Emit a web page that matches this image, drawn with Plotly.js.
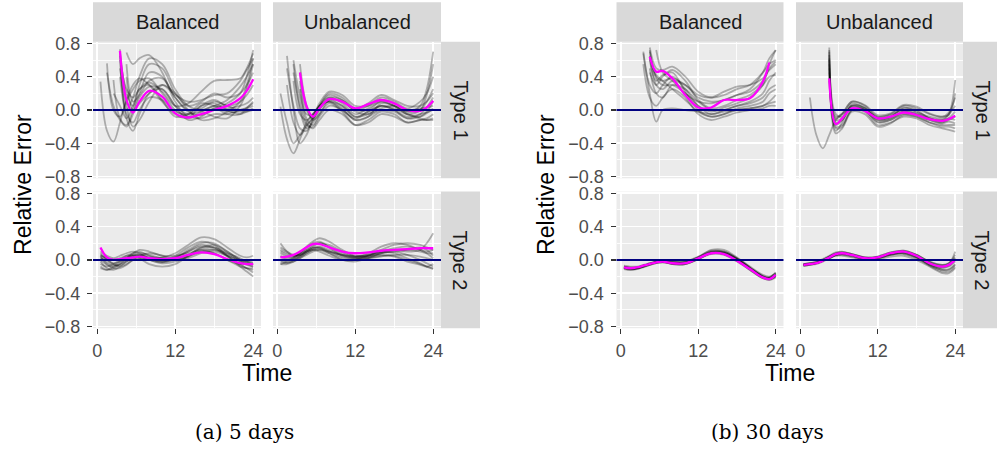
<!DOCTYPE html>
<html><head><meta charset="utf-8">
<script src="https://cdn.plot.ly/plotly-3.0.1.min.js"></script>
<style>html,body{margin:0;padding:0;background:#fff}#chart{width:997px;height:449px}</style>
</head><body><div id="chart"></div>
<script>
const _ = null;
const hours = [0.5,1.5,2.5,3.5,4.5,5.5,6.5,8,10,12,14,16,18,20,22,23,24];
const columns = ['Balanced','Unbalanced'];
const rows = ['Type 1','Type 2'];
const captions = ['(a) 5 days','(b) 30 days'];
const referenceError = 0;

// (a) 5 days, Type 1, Balanced
const d5T1BalMean = [_,_,_,0.71,0.12,-0.03,0.10,0.23,0.16,-0.04,-0.09,-0.05,0.00,0.05,0.14,0.23,0.37];
const d5T1BalRuns = [
 [0.34,-0.25,-0.38,-0.15,0.12,0.30,0.38,0.30,0.10,-0.05,-0.10,-0.02,0.05,0.02,0.05,0.08,0.15],
 [_,0.56,0.00,-0.08,0.10,0.25,0.35,0.38,0.20,0.00,-0.08,-0.10,-0.05,-0.05,0.00,0.03,0.08],
 [_,_,0.36,-0.10,-0.18,0.00,0.20,0.45,0.40,0.15,0.00,0.02,0.10,0.05,0.00,0.02,0.05],
 [_,_,_,0.73,-0.10,-0.25,-0.05,0.20,0.25,0.05,-0.05,-0.02,-0.08,-0.10,0.05,0.25,0.55],
 [_,_,_,0.69,0.20,0.05,0.30,0.55,0.50,0.20,0.05,0.10,0.20,0.15,0.20,0.30,0.45],
 [_,_,_,_,0.69,0.55,0.62,0.66,0.45,0.10,-0.08,0.05,0.12,0.05,0.10,0.18,0.30],
 [_,_,_,0.50,0.05,-0.20,-0.12,0.10,0.30,0.20,0.00,-0.12,-0.10,-0.02,0.10,0.30,0.62],
 [_,_,_,_,0.55,0.10,0.18,0.35,0.38,0.15,-0.02,-0.06,0.02,0.08,0.20,0.40,0.72],
 [_,_,0.20,0.05,-0.10,0.05,0.25,0.33,0.22,0.05,0.08,0.22,0.35,0.36,0.38,0.50,0.68],
 [_,_,_,0.60,0.00,0.15,0.40,0.62,0.55,0.25,0.05,0.00,0.05,0.12,0.28,0.40,0.55],
 [_,_,_,0.40,-0.05,-0.15,0.00,0.15,0.12,-0.02,-0.05,0.05,0.08,0.00,-0.05,-0.02,0.02],
 [_,0.45,0.05,-0.12,-0.20,-0.05,0.15,0.28,0.25,0.05,-0.12,-0.08,0.02,-0.05,-0.05,0.02,0.10],
 [_,_,_,0.65,0.25,0.15,0.25,0.30,0.12,-0.08,-0.05,0.08,0.05,-0.02,-0.02,-0.02,0.00],
 [_,_,_,_,0.40,0.00,0.08,0.20,0.30,0.18,0.10,0.12,0.18,0.20,0.35,0.48,0.62]
];

// (a) 5 days, Type 1, Unbalanced
const d5T1UnbMean = [_,_,_,0.45,0.05,-0.08,0.02,0.13,0.10,0.02,0.07,0.12,0.08,0.00,-0.01,0.03,0.11];
const d5T1UnbRuns = [
 [0.04,-0.35,-0.52,-0.35,-0.15,-0.05,0.05,0.10,0.00,-0.10,-0.02,0.05,0.00,-0.08,-0.05,-0.03,0.00],
 [_,0.65,0.00,-0.40,-0.30,-0.10,0.05,0.15,0.08,-0.05,0.02,0.10,0.05,-0.02,0.05,0.25,0.70],
 [_,0.50,0.05,-0.22,-0.25,-0.12,0.02,0.12,0.05,-0.08,-0.05,0.05,0.02,-0.05,0.00,0.18,0.55],
 [_,_,0.55,0.00,-0.22,-0.15,0.00,0.15,0.12,0.00,0.05,0.15,0.10,0.02,0.10,0.20,0.40],
 [_,_,0.45,0.05,-0.18,-0.20,-0.08,0.05,0.00,-0.12,-0.08,0.00,-0.02,-0.10,-0.05,0.03,0.15],
 [_,_,_,0.35,-0.10,-0.18,-0.05,0.08,-0.02,-0.18,-0.15,-0.05,-0.08,-0.15,-0.12,-0.10,-0.05],
 [_,_,_,0.45,0.00,-0.10,0.05,0.20,0.15,0.02,0.08,0.18,0.12,0.05,0.05,0.10,0.20],
 [_,_,0.60,0.15,-0.15,-0.22,-0.12,0.00,-0.05,-0.18,-0.12,-0.02,-0.05,-0.15,-0.12,-0.12,-0.10],
 [_,_,_,0.25,-0.05,-0.05,0.08,0.22,0.18,0.05,0.05,0.12,0.08,0.00,0.02,0.03,0.05],
 [_,0.30,-0.15,-0.30,-0.20,-0.08,0.05,0.10,0.02,-0.12,-0.08,0.08,0.05,-0.05,-0.10,-0.12,-0.12],
 [_,_,_,0.55,0.05,-0.12,-0.05,0.12,0.10,-0.02,-0.05,0.02,0.05,-0.02,0.00,0.10,0.25],
 [_,_,0.35,-0.05,-0.12,-0.05,0.05,0.18,0.12,0.00,0.00,0.10,0.05,-0.05,-0.08,-0.04,0.02],
 [0.20,-0.15,-0.40,-0.30,-0.18,-0.10,0.02,0.10,0.05,-0.08,-0.02,0.05,0.00,-0.10,-0.08,-0.02,0.10]
];

// (a) 5 days, Type 2, Balanced
const d5T2BalMean = [0.15,0.03,0.00,0.01,0.02,0.03,0.04,0.02,0.01,0.02,0.06,0.09,0.07,0.01,-0.04,-0.05,-0.05];
const d5T2BalRuns = [
 [0.05,-0.05,-0.08,-0.05,0.02,0.08,0.10,0.05,0.00,0.05,0.15,0.22,0.18,0.05,-0.05,-0.10,-0.15],
 [-0.02,-0.10,-0.12,-0.08,-0.02,0.02,0.03,0.00,-0.03,0.02,0.10,0.18,0.15,0.05,-0.08,-0.14,-0.20],
 [0.10,0.05,0.02,0.05,0.08,0.10,0.08,0.02,-0.02,0.00,0.05,0.10,0.08,0.00,-0.05,-0.05,-0.05],
 [-0.08,-0.12,-0.10,-0.05,0.00,0.05,0.05,0.02,0.03,0.08,0.18,0.27,0.25,0.15,0.05,0.03,0.05],
 [0.02,0.00,-0.05,-0.08,-0.05,0.00,0.05,0.08,0.05,0.00,0.02,0.08,0.10,0.05,0.00,-0.02,-0.03],
 [0.05,0.02,0.00,0.02,0.05,0.05,0.02,-0.05,-0.08,-0.05,0.05,0.15,0.18,0.10,0.00,-0.05,-0.08],
 [-0.05,-0.08,-0.05,0.00,0.05,0.08,0.12,0.10,0.05,0.05,0.08,0.12,0.08,0.00,-0.08,-0.10,-0.10],
 [0.00,-0.06,-0.10,-0.10,-0.06,0.00,0.02,0.02,0.00,0.03,0.12,0.20,0.20,0.10,0.00,-0.02,0.00],
 [0.08,0.00,-0.04,-0.02,0.02,0.06,0.08,0.06,0.02,0.02,0.06,0.14,0.15,0.08,-0.02,-0.06,-0.08],
 [-0.10,-0.12,-0.08,-0.02,0.03,0.06,0.06,0.04,0.02,0.00,0.04,0.10,0.12,0.08,0.02,-0.02,-0.06],
 [0.03,-0.03,-0.06,-0.06,-0.02,0.03,0.06,0.02,-0.02,0.03,0.10,0.16,0.14,0.04,-0.06,-0.10,-0.12],
 [0.06,0.02,0.00,0.00,0.02,0.04,0.04,0.00,-0.04,-0.02,0.04,0.12,0.12,0.06,-0.02,-0.04,-0.04]
];

// (a) 5 days, Type 2, Unbalanced
const d5T2UnbMean = [0.03,0.04,0.06,0.10,0.15,0.19,0.19,0.15,0.10,0.08,0.09,0.11,0.12,0.13,0.14,0.14,0.14];
const d5T2UnbRuns = [
 [0.20,0.10,0.05,0.08,0.15,0.20,0.22,0.15,0.05,0.02,0.05,0.10,0.12,0.10,0.12,0.20,0.32],
 [-0.05,-0.02,0.02,0.08,0.12,0.15,0.14,0.08,0.00,-0.02,0.02,0.05,0.05,0.00,-0.05,-0.08,-0.10],
 [0.05,0.02,0.03,0.08,0.16,0.22,0.26,0.22,0.12,0.05,0.05,0.08,0.10,0.12,0.15,0.12,0.05],
 [0.12,0.08,0.05,0.06,0.10,0.12,0.10,0.05,0.00,0.00,0.05,0.12,0.18,0.20,0.18,0.15,0.12],
 [-0.02,-0.04,0.00,0.05,0.10,0.14,0.15,0.10,0.04,0.02,0.04,0.06,0.04,-0.02,-0.06,-0.08,-0.05],
 [0.08,0.04,0.02,0.04,0.08,0.12,0.14,0.10,0.06,0.04,0.06,0.10,0.14,0.16,0.12,0.08,0.02],
 [0.00,-0.03,-0.02,0.02,0.08,0.12,0.12,0.08,0.02,0.00,0.02,0.08,0.10,0.06,0.00,-0.04,-0.08],
 [0.15,0.10,0.06,0.06,0.10,0.16,0.20,0.18,0.10,0.04,0.04,0.08,0.12,0.12,0.10,0.08,0.08],
 [0.04,0.00,0.00,0.04,0.10,0.14,0.16,0.12,0.06,0.02,0.02,0.04,0.06,0.06,0.04,0.02,0.00],
 [-0.05,-0.05,-0.02,0.02,0.06,0.10,0.12,0.10,0.06,0.04,0.06,0.10,0.08,0.02,-0.04,-0.08,-0.11],
 [0.10,0.06,0.04,0.06,0.12,0.18,0.20,0.16,0.08,0.04,0.08,0.16,0.20,0.18,0.12,0.10,0.12]
];

// (b) 30 days, Type 1, Balanced
const d30T1BalMean = [_,_,_,_,0.64,0.46,0.47,0.38,0.18,0.03,0.03,0.12,0.12,0.14,0.34,0.57,_];
const d30T1BalRuns = [
 [_,_,_,0.70,0.20,-0.14,0.00,0.02,0.00,-0.02,-0.05,-0.02,0.00,0.02,0.05,0.08,0.10],
 [_,_,_,_,0.72,0.40,0.35,0.38,0.30,0.15,0.10,0.12,0.18,0.25,0.45,0.62,0.72],
 [_,_,_,0.68,0.30,0.20,0.30,0.40,0.25,0.05,-0.05,0.00,0.05,0.10,0.20,0.35,0.45],
 [_,_,_,_,0.60,0.35,0.42,0.45,0.22,0.00,-0.08,-0.05,0.00,0.02,0.05,0.10,0.18],
 [_,_,_,_,0.65,0.30,0.25,0.35,0.30,0.18,0.15,0.22,0.28,0.30,0.38,0.48,0.55],
 [_,_,_,_,0.75,0.50,0.48,0.52,0.40,0.22,0.15,0.18,0.25,0.30,0.45,0.55,0.60],
 [_,_,_,0.55,0.15,0.05,0.15,0.25,0.15,-0.05,-0.12,-0.08,-0.03,0.00,0.02,0.05,0.05],
 [_,_,_,_,0.70,0.38,0.30,0.30,0.20,0.05,-0.02,0.03,0.08,0.15,0.30,0.55,0.72],
 [_,_,_,_,0.45,0.30,0.40,0.48,0.35,0.12,0.02,0.05,0.12,0.18,0.30,0.40,0.42],
 [_,_,_,_,0.50,0.20,0.15,0.30,0.25,0.10,0.00,0.00,0.05,0.08,0.15,0.25,0.30],
 [_,_,_,_,_,0.72,0.45,0.35,0.20,0.10,0.08,0.12,0.18,0.22,0.35,0.50,0.58],
 [_,_,_,_,0.62,0.42,0.35,0.25,0.12,-0.02,-0.08,-0.05,0.02,0.05,0.10,0.20,0.25]
];

// (b) 30 days, Type 1, Unbalanced
const d30T1UnbMean = [_,_,_,_,0.38,-0.17,-0.10,0.02,-0.01,-0.10,-0.08,-0.03,-0.06,-0.11,-0.13,-0.11,-0.07];
const d30T1UnbRuns = [
 [_,0.15,-0.30,-0.46,-0.30,-0.12,-0.05,0.02,0.00,-0.08,-0.06,0.00,-0.03,-0.08,-0.10,-0.05,0.05],
 [_,_,_,_,0.75,-0.25,-0.15,0.05,0.02,-0.12,-0.10,-0.02,-0.05,-0.12,-0.15,-0.12,-0.08],
 [_,_,_,_,0.70,-0.20,-0.18,0.00,0.00,-0.15,-0.12,-0.05,-0.08,-0.15,-0.18,-0.18,-0.18],
 [_,_,_,_,0.60,-0.10,-0.05,0.10,0.05,-0.08,-0.05,0.05,0.02,-0.05,-0.08,-0.03,0.15],
 [_,_,_,_,0.45,-0.22,-0.20,0.00,-0.02,-0.18,-0.15,-0.08,-0.10,-0.18,-0.22,-0.24,-0.26],
 [_,_,_,_,0.62,-0.05,-0.08,0.08,0.02,-0.10,-0.08,0.02,0.00,-0.10,-0.12,-0.05,0.36],
 [_,_,_,_,0.50,-0.15,-0.12,0.05,0.00,-0.12,-0.10,-0.02,-0.05,-0.10,-0.12,-0.10,-0.12],
 [_,_,_,_,0.72,-0.28,-0.22,-0.02,-0.05,-0.20,-0.16,-0.06,-0.08,-0.15,-0.20,-0.20,-0.22],
 [_,_,_,_,0.35,-0.12,-0.10,0.06,0.03,-0.10,-0.08,0.03,-0.02,-0.10,-0.14,-0.10,-0.02],
 [_,_,_,_,0.55,-0.18,-0.12,0.04,0.00,-0.14,-0.12,-0.03,-0.06,-0.12,-0.16,-0.14,-0.16],
 [_,_,_,_,0.66,-0.08,-0.04,0.10,0.06,-0.06,-0.04,0.06,0.04,-0.04,-0.08,-0.06,0.20]
];

// (b) 30 days, Type 2, Balanced
const d30T2BalMean = [-0.09,-0.10,-0.09,-0.07,-0.05,-0.03,-0.02,-0.04,-0.04,0.02,0.08,0.07,-0.01,-0.11,-0.21,-0.23,-0.18];
const d30T2BalRuns = [
 [-0.08,-0.10,-0.10,-0.08,-0.05,-0.02,-0.01,-0.03,-0.03,0.03,0.10,0.09,0.01,-0.10,-0.20,-0.22,-0.17],
 [-0.10,-0.12,-0.11,-0.08,-0.06,-0.04,-0.03,-0.05,-0.05,0.01,0.07,0.06,-0.02,-0.12,-0.22,-0.24,-0.20],
 [-0.07,-0.08,-0.08,-0.06,-0.04,-0.02,-0.01,-0.02,-0.02,0.04,0.11,0.10,0.02,-0.09,-0.19,-0.21,-0.15],
 [-0.09,-0.11,-0.10,-0.07,-0.05,-0.03,-0.02,-0.04,-0.04,0.02,0.09,0.08,0.00,-0.11,-0.21,-0.23,-0.19],
 [-0.11,-0.12,-0.10,-0.08,-0.06,-0.03,-0.02,-0.05,-0.05,0.01,0.08,0.08,0.01,-0.10,-0.20,-0.23,-0.19],
 [-0.08,-0.09,-0.09,-0.07,-0.04,-0.02,0.00,-0.02,-0.03,0.03,0.12,0.12,0.03,-0.08,-0.18,-0.20,-0.16],
 [-0.10,-0.11,-0.11,-0.09,-0.06,-0.04,-0.03,-0.04,-0.04,0.02,0.08,0.07,-0.01,-0.12,-0.22,-0.24,-0.21],
 [-0.09,-0.10,-0.09,-0.07,-0.05,-0.03,-0.02,-0.03,-0.03,0.02,0.09,0.09,0.01,-0.10,-0.21,-0.22,-0.17],
 [-0.08,-0.10,-0.10,-0.08,-0.05,-0.03,-0.02,-0.05,-0.05,0.01,0.08,0.07,-0.01,-0.11,-0.20,-0.22,-0.19],
 [-0.10,-0.11,-0.10,-0.07,-0.05,-0.02,-0.01,-0.03,-0.02,0.03,0.10,0.10,0.02,-0.09,-0.20,-0.21,-0.16]
];

// (b) 30 days, Type 2, Unbalanced
const d30T2UnbMean = [-0.06,-0.05,-0.04,-0.01,0.03,0.07,0.08,0.06,0.02,0.03,0.08,0.10,0.05,-0.04,-0.08,-0.06,0.00];
const d30T2UnbRuns = [
 [-0.05,-0.04,-0.02,0.01,0.05,0.09,0.10,0.07,0.03,0.04,0.09,0.11,0.06,-0.02,-0.06,-0.04,0.06],
 [-0.07,-0.06,-0.05,-0.02,0.02,0.06,0.07,0.05,0.01,0.02,0.06,0.08,0.03,-0.06,-0.12,-0.11,-0.05],
 [-0.06,-0.05,-0.04,-0.01,0.02,0.05,0.05,0.03,0.00,0.01,0.04,0.05,0.00,-0.08,-0.16,-0.16,-0.10],
 [-0.05,-0.04,-0.03,0.00,0.04,0.08,0.09,0.07,0.03,0.03,0.08,0.10,0.06,-0.02,-0.06,-0.04,0.03],
 [-0.07,-0.06,-0.04,-0.01,0.03,0.06,0.08,0.06,0.02,0.03,0.07,0.09,0.04,-0.05,-0.10,-0.08,-0.02],
 [-0.06,-0.05,-0.04,-0.01,0.02,0.05,0.06,0.04,0.01,0.02,0.06,0.07,0.02,-0.07,-0.14,-0.14,-0.08],
 [-0.05,-0.04,-0.03,0.00,0.04,0.08,0.09,0.07,0.03,0.04,0.09,0.11,0.06,-0.03,-0.07,-0.05,0.10],
 [-0.06,-0.05,-0.04,-0.01,0.03,0.07,0.08,0.06,0.02,0.03,0.08,0.10,0.05,-0.04,-0.08,-0.06,0.02],
 [-0.07,-0.06,-0.04,-0.01,0.02,0.06,0.07,0.05,0.01,0.02,0.06,0.08,0.03,-0.06,-0.12,-0.12,-0.06],
 [-0.05,-0.05,-0.03,0.00,0.04,0.07,0.08,0.06,0.02,0.03,0.07,0.09,0.04,-0.05,-0.09,-0.07,0.00]
];

// ---------- layout geometry (pixels) ----------
const W = 997, H = 449;
const px = v => v / W, py = v => 1 - v / H;
const figures = [
  {cols: [[93, 261], [273, 441]], rowStrip: [441, 480], yTitleX: 23, caption: 244},
  {cols: [[616.5, 783.5], [796, 963]], rowStrip: [963, 1002], yTitleX: 546, caption: 767}
];
const rowsPx = [[41.7, 178.3], [191.6, 328.2]];
const colStripY = [2.3, 41.7];

const panels = [
  {fig: 0, r: 0, c: 0, mean: d5T1BalMean, runs: d5T1BalRuns},
  {fig: 0, r: 0, c: 1, mean: d5T1UnbMean, runs: d5T1UnbRuns},
  {fig: 0, r: 1, c: 0, mean: d5T2BalMean, runs: d5T2BalRuns},
  {fig: 0, r: 1, c: 1, mean: d5T2UnbMean, runs: d5T2UnbRuns},
  {fig: 1, r: 0, c: 0, mean: d30T1BalMean, runs: d30T1BalRuns},
  {fig: 1, r: 0, c: 1, mean: d30T1UnbMean, runs: d30T1UnbRuns},
  {fig: 1, r: 1, c: 0, mean: d30T2BalMean, runs: d30T2BalRuns},
  {fig: 1, r: 1, c: 1, mean: d30T2UnbMean, runs: d30T2UnbRuns}
];

const sans = 'Liberation Sans, Arial, Helvetica, sans-serif';
const tickFont = {family: sans, size: 18, color: '#4D4D4D'};
const traces = [];
const layout = {
  width: W, height: H,
  margin: {l: 0, r: 0, t: 0, b: 0},
  paper_bgcolor: '#FFFFFF', plot_bgcolor: '#EBEBEB',
  showlegend: false, shapes: [], annotations: [],
  font: {family: sans}
};

panels.forEach((p, i) => {
  const k = i === 0 ? '' : String(i + 1);
  const fig = figures[p.fig];
  const cx = fig.cols[p.c], ry = rowsPx[p.r];
  const bottom = p.r === 1, left = p.c === 0;
  layout['xaxis' + k] = {
    domain: [px(cx[0]), px(cx[1])], anchor: 'y' + k,
    range: [-0.65, 25.2], tick0: 0, dtick: 12, tickmode: 'linear',
    showgrid: true, gridcolor: '#FFFFFF', gridwidth: 1.7, zeroline: false, showline: false,
    minor: {dtick: 6, tick0: 0, showgrid: true, gridcolor: '#FFFFFF', gridwidth: 0.85},
    showticklabels: bottom, ticks: bottom ? 'outside' : '', ticklen: 5, tickwidth: 1.4, tickcolor: '#333333',
    tickfont: tickFont, ticklabelstandoff: 1, fixedrange: true
  };
  layout['yaxis' + k] = {
    domain: [py(ry[1]), py(ry[0])], anchor: 'x' + k,
    range: [-0.82, 0.82], tick0: 0, dtick: 0.4, tickmode: 'linear', tickformat: '.1f',
    showgrid: true, gridcolor: '#FFFFFF', gridwidth: 1.7, zeroline: false, showline: false,
    minor: {dtick: 0.2, tick0: 0, showgrid: true, gridcolor: '#FFFFFF', gridwidth: 0.85},
    showticklabels: left, ticks: left ? 'outside' : '', ticklen: 5, tickwidth: 1.4, tickcolor: '#333333',
    tickfont: tickFont, ticklabelstandoff: 3, fixedrange: true
  };
  p.runs.forEach(run => traces.push({
    x: hours, y: run, xaxis: 'x' + k, yaxis: 'y' + k, type: 'scatter', mode: 'lines',
    line: {color: 'rgba(0,0,0,0.28)', width: 1.8, shape: 'spline'}, hoverinfo: 'skip'
  }));
  traces.push({
    x: hours, y: p.mean, xaxis: 'x' + k, yaxis: 'y' + k, type: 'scatter', mode: 'lines',
    line: {color: '#FF00FF', width: 2.3, shape: 'spline'}, hoverinfo: 'skip'
  });
  layout.shapes.push({
    type: 'line', xref: 'x' + k + ' domain', yref: 'y' + k, x0: 0, x1: 1,
    y0: referenceError, y1: referenceError, line: {color: '#000080', width: 2}, layer: 'above'
  });
});

figures.forEach(fig => {
  fig.cols.forEach((cx, c) => {
    layout.shapes.push({type: 'rect', xref: 'paper', yref: 'paper', x0: px(cx[0]), x1: px(cx[1]),
      y0: py(colStripY[1]), y1: py(colStripY[0]), fillcolor: '#D9D9D9', line: {width: 0}, layer: 'below'});
    layout.annotations.push({xref: 'paper', yref: 'paper', x: px((cx[0] + cx[1]) / 2), y: py((colStripY[0] + colStripY[1]) / 2),
      text: columns[c], showarrow: false, xanchor: 'center', yanchor: 'middle',
      font: {family: sans, size: 20, color: '#1A1A1A'}});
  });
  rowsPx.forEach((ry, r) => {
    layout.shapes.push({type: 'rect', xref: 'paper', yref: 'paper', x0: px(fig.rowStrip[0]), x1: px(fig.rowStrip[1]),
      y0: py(ry[1]), y1: py(ry[0]), fillcolor: '#D9D9D9', line: {width: 0}, layer: 'below'});
    layout.annotations.push({xref: 'paper', yref: 'paper', x: px((fig.rowStrip[0] + fig.rowStrip[1]) / 2), y: py((ry[0] + ry[1]) / 2),
      text: rows[r], textangle: 90, showarrow: false, xanchor: 'center', yanchor: 'middle',
      font: {family: sans, size: 20, color: '#1A1A1A'}});
  });
  layout.annotations.push({xref: 'paper', yref: 'paper', x: px(fig.yTitleX), y: py((rowsPx[0][0] + rowsPx[1][1]) / 2),
    text: 'Relative Error', textangle: -90, showarrow: false, xanchor: 'center', yanchor: 'middle',
    font: {family: sans, size: 23, color: '#000000'}});
  layout.annotations.push({xref: 'paper', yref: 'paper', x: px((fig.cols[0][0] + fig.cols[1][1]) / 2), y: py(373),
    text: 'Time', showarrow: false, xanchor: 'center', yanchor: 'middle',
    font: {family: sans, size: 23, color: '#000000'}});
});
figures.forEach((fig, f) => {
  layout.annotations.push({xref: 'paper', yref: 'paper', x: px(fig.caption), y: py(432),
    text: captions[f], showarrow: false, xanchor: 'center', yanchor: 'middle',
    font: {family: 'DejaVu Serif, Liberation Serif, serif', size: 20, color: '#000000'}});
});

Plotly.newPlot('chart', traces, layout, {staticPlot: true, displayModeBar: false});
</script>
</body></html>
